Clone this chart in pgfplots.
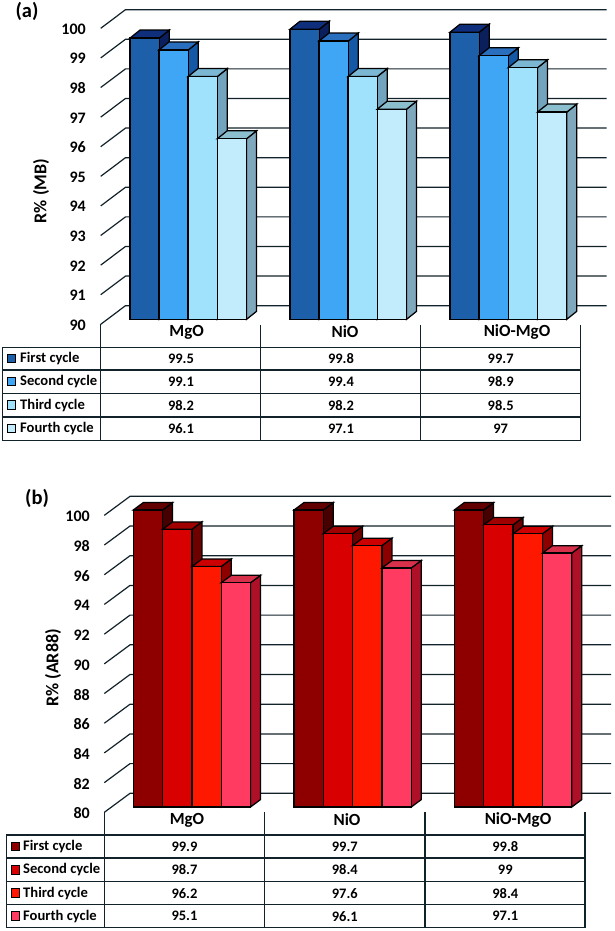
\documentclass[border=0pt]{standalone}
\usepackage{fontspec}
\setmainfont{Carlito}
\usepackage{pgfplots}
\pgfplotsset{compat=1.18}
\definecolor{lnk}{HTML}{12222A}
\definecolor{aF}{HTML}{1D5FA8}\definecolor{aFt}{HTML}{0F2E7C}\definecolor{aFs}{HTML}{0B1F5C}
\definecolor{aS}{HTML}{3FA6F5}\definecolor{aSt}{HTML}{2A6FBE}\definecolor{aSs}{HTML}{1558A6}
\definecolor{aT}{HTML}{A0E1FB}\definecolor{aTt}{HTML}{7BB6D2}\definecolor{aTs}{HTML}{72A4BE}
\definecolor{aU}{HTML}{C2ECFB}\definecolor{aUt}{HTML}{8CBFCE}\definecolor{aUs}{HTML}{80A8BC}
\definecolor{bF}{HTML}{8E0000}\definecolor{bFt}{HTML}{620000}\definecolor{bFs}{HTML}{470000}
\definecolor{bS}{HTML}{D80000}\definecolor{bSt}{HTML}{A00000}\definecolor{bSs}{HTML}{6E0000}
\definecolor{bT}{HTML}{FF1800}\definecolor{bTt}{HTML}{CC0000}\definecolor{bTs}{HTML}{8E0000}
\definecolor{bU}{HTML}{FF3B62}\definecolor{bUt}{HTML}{D6304A}\definecolor{bUs}{HTML}{AE1028}
% x0, value, colour stem; uses \barw, \dpx, \dpy, \base
\newcommand\tdbar[3]{%
  \pgfmathsetmacro\xa{#1}\pgfmathsetmacro\xb{#1+\barw}\pgfmathsetmacro\xc{#1+\barw+\dpx}\pgfmathsetmacro\xd{#1+\dpx}%
  \pgfmathsetmacro\yt{#2+\dpy}\pgfmathsetmacro\yb{\base+\dpy}%
  \addplot[draw=black,line width=1.25pt,fill=#3s] coordinates {(\xb,#2)(\xc,\yt)(\xc,\yb)(\xb,\base)} --cycle;
  \addplot[draw=black,line width=1.25pt,fill=#3t] coordinates {(\xa,#2)(\xb,#2)(\xc,\yt)(\xd,\yt)} --cycle;
  \addplot[draw=black,line width=1.25pt,fill=#3] coordinates {(\xa,\base)(\xa,#2)(\xb,#2)(\xb,\base)} --cycle;
}
\pgfplotsset{chart/.style={
  scale only axis, width=614pt, xmin=0, xmax=614, clip=false,
  axis line style={draw=none}, major tick length=0pt, tick style={draw=none},
  /pgf/number format/assume math mode=true,
  yticklabel style={font=\bfseries\fontsize{16}{18}\selectfont,anchor=east,inner sep=0pt},
  xticklabel style={font=\bfseries\fontsize{17}{19}\selectfont,anchor=center,inner sep=0pt},
  xticklabels={MgO,NiO,NiO-MgO},
  wall/.style={draw=lnk,line width=1.2pt},
}}
\begin{document}
\begin{tikzpicture}[x=1pt,y=1pt]
\path[use as bounding box] (0,0) rectangle (614,931);
% ---------- panel (a)
\begin{axis}[chart, at={(0pt,611.7pt)}, anchor=south west, height=325.6pt,
  ymin=90, ymax=101, ytick={90,91,92,93,94,95,96,97,98,99,100},
  xtick={186.7,345,517},
  yticklabel style={xshift=86pt,yshift=-5.7pt},
  xticklabel style={yshift=-12.7pt}]
\addplot[wall] coordinates {(100.7,89.83)(125.5,90.46)(606.7,90.46)};
\addplot[wall] coordinates {(100.7,90.83)(125.5,91.46)(606.7,91.46)};
\addplot[wall] coordinates {(100.7,91.83)(125.5,92.46)(606.7,92.46)};
\addplot[wall] coordinates {(100.7,92.83)(125.5,93.46)(606.7,93.46)};
\addplot[wall] coordinates {(100.7,93.83)(125.5,94.46)(606.7,94.46)};
\addplot[wall] coordinates {(100.7,94.83)(125.5,95.46)(606.7,95.46)};
\addplot[wall] coordinates {(100.7,95.83)(125.5,96.46)(606.7,96.46)};
\addplot[wall] coordinates {(100.7,96.83)(125.5,97.46)(606.7,97.46)};
\addplot[wall] coordinates {(100.7,97.83)(125.5,98.46)(606.7,98.46)};
\addplot[wall] coordinates {(100.7,98.83)(125.5,99.46)(606.7,99.46)};
\addplot[wall] coordinates {(100.7,99.83)(125.5,100.46)(606.7,100.46)};
\def\barw{29.3}\def\dpx{10}\def\dpy{0.27}\def\base{90}
\tdbar{130}{99.5}{aF}\tdbar{159}{99.1}{aS}\tdbar{188}{98.2}{aT}\tdbar{217.3}{96.1}{aU}
\tdbar{290}{99.8}{aF}\tdbar{319}{99.4}{aS}\tdbar{348}{98.2}{aT}\tdbar{377.3}{97.1}{aU}
\tdbar{450}{99.7}{aF}\tdbar{479}{98.9}{aS}\tdbar{508.3}{98.5}{aT}\tdbar{537.5}{97.0}{aU}
\end{axis}
% ---------- panel (b)
\begin{axis}[chart, at={(0pt,124pt)}, anchor=south west, height=326.7pt,
  ymin=80, ymax=102, ytick={80,82,84,86,88,90,92,94,96,98,100},
  xtick={187,347,518},
  yticklabel style={xshift=90pt,yshift=-6.5pt},
  xticklabel style={yshift=-13pt}]
\addplot[wall] coordinates {(104.3,79.64)(130,80.92)(611,80.92)};
\addplot[wall] coordinates {(104.3,81.64)(130,82.92)(611,82.92)};
\addplot[wall] coordinates {(104.3,83.64)(130,84.92)(611,84.92)};
\addplot[wall] coordinates {(104.3,85.64)(130,86.92)(611,86.92)};
\addplot[wall] coordinates {(104.3,87.64)(130,88.92)(611,88.92)};
\addplot[wall] coordinates {(104.3,89.64)(130,90.92)(611,90.92)};
\addplot[wall] coordinates {(104.3,91.64)(130,92.92)(611,92.92)};
\addplot[wall] coordinates {(104.3,93.64)(130,94.92)(611,94.92)};
\addplot[wall] coordinates {(104.3,95.64)(130,96.92)(611,96.92)};
\addplot[wall] coordinates {(104.3,97.64)(130,98.92)(611,98.92)};
\addplot[wall] coordinates {(104.3,99.64)(130,100.92)(611,100.92)};
\def\barw{29.3}\def\dpx{10}\def\dpy{0.5}\def\base{80}
\tdbar{133.3}{100}{bF}\tdbar{162.6}{98.7}{bS}\tdbar{192}{96.2}{bT}\tdbar{221.2}{95.1}{bU}
\tdbar{294}{100}{bF}\tdbar{323.2}{98.4}{bS}\tdbar{352.6}{97.6}{bT}\tdbar{382}{96.1}{bU}
\tdbar{454.3}{100}{bF}\tdbar{483.8}{99}{bS}\tdbar{513.2}{98.4}{bT}\tdbar{542.5}{97.1}{bU}
\end{axis}
% ---------- tables, labels
\begin{scope}[x=1pt,y=-1pt,yshift=931pt]
\node[font=\bfseries\fontsize{20.5}{22}\selectfont] at (27,11) {(a)};
\node[font=\bfseries\fontsize{20.5}{22}\selectfont] at (37,498) {(b)};
\node[rotate=90,font=\bfseries\fontsize{18}{20}\selectfont] at (41,191) {R\% (MB)};
\node[rotate=90,font=\bfseries\fontsize{18}{20}\selectfont] at (53,668) {R\% (AR88)};
% table a
\draw[lnk,line width=1.3pt] (2.7,347.3) rectangle (580.7,440.3);
\foreach \y in {370,393.3,417} \draw[lnk,line width=1.3pt] (2.7,\y)--(580.7,\y);
\draw[lnk,line width=1.3pt] (100.7,324.3)--(100.7,440.3) (260.7,325)--(260.7,440.3) (420.7,325)--(420.7,440.3) (580.7,325)--(580.7,440.3);
% table b
\draw[lnk,line width=1.3pt] (6.7,835) rectangle (585,927.5);
\foreach \y in {858,881.7,904.7} \draw[lnk,line width=1.3pt] (6.7,\y)--(585,\y);
\draw[lnk,line width=1.3pt] (104.3,812.3)--(104.3,927.5) (264.7,812.5)--(264.7,927.5) (425,812.5)--(425,927.5) (585,812.5)--(585,927.5);
\tikzset{cell/.style={font=\bfseries\fontsize{14.5}{16}\selectfont},
  lab/.style={font=\bfseries\fontsize{14.6}{16}\selectfont,anchor=west,inner sep=0pt},
  sw/.style={draw=black,line width=1pt,minimum size=8.5pt,inner sep=0pt}}
% table a rows
\foreach \yy/\nm/\c/\p/\q/\r in {358.6/First cycle/aF/99.5/99.8/99.7,
  381.6/Second cycle/aS/99.1/99.4/98.9,
  405.2/Third cycle/aT/98.2/98.2/98.5,
  428.6/Fourth cycle/aU/96.1/97.1/97}{
  \node[sw,fill=\c] at (11.7,\yy) {};
  \node[lab] at (20,\yy) {\nm};
  \node[cell] at (181,\yy) {\p};
  \node[cell] at (341,\yy) {\q};
  \node[cell] at (500.7,\yy) {\r};
}
% table b rows
\foreach \yy/\nm/\c/\p/\q/\r in {846.5/First cycle/bF/99.9/99.7/99.8,
  869.8/Second cycle/bS/98.7/98.4/99,
  893.2/Third cycle/bT/96.2/97.6/98.4,
  916.2/Fourth cycle/bU/95.1/96.1/97.1}{
  \node[sw,fill=\c] at (15.6,\yy) {};
  \node[lab] at (23,\yy) {\nm};
  \node[cell] at (184.5,\yy) {\p};
  \node[cell] at (344.8,\yy) {\q};
  \node[cell] at (505.3,\yy) {\r};
}
\end{scope}
\end{tikzpicture}
\end{document}
